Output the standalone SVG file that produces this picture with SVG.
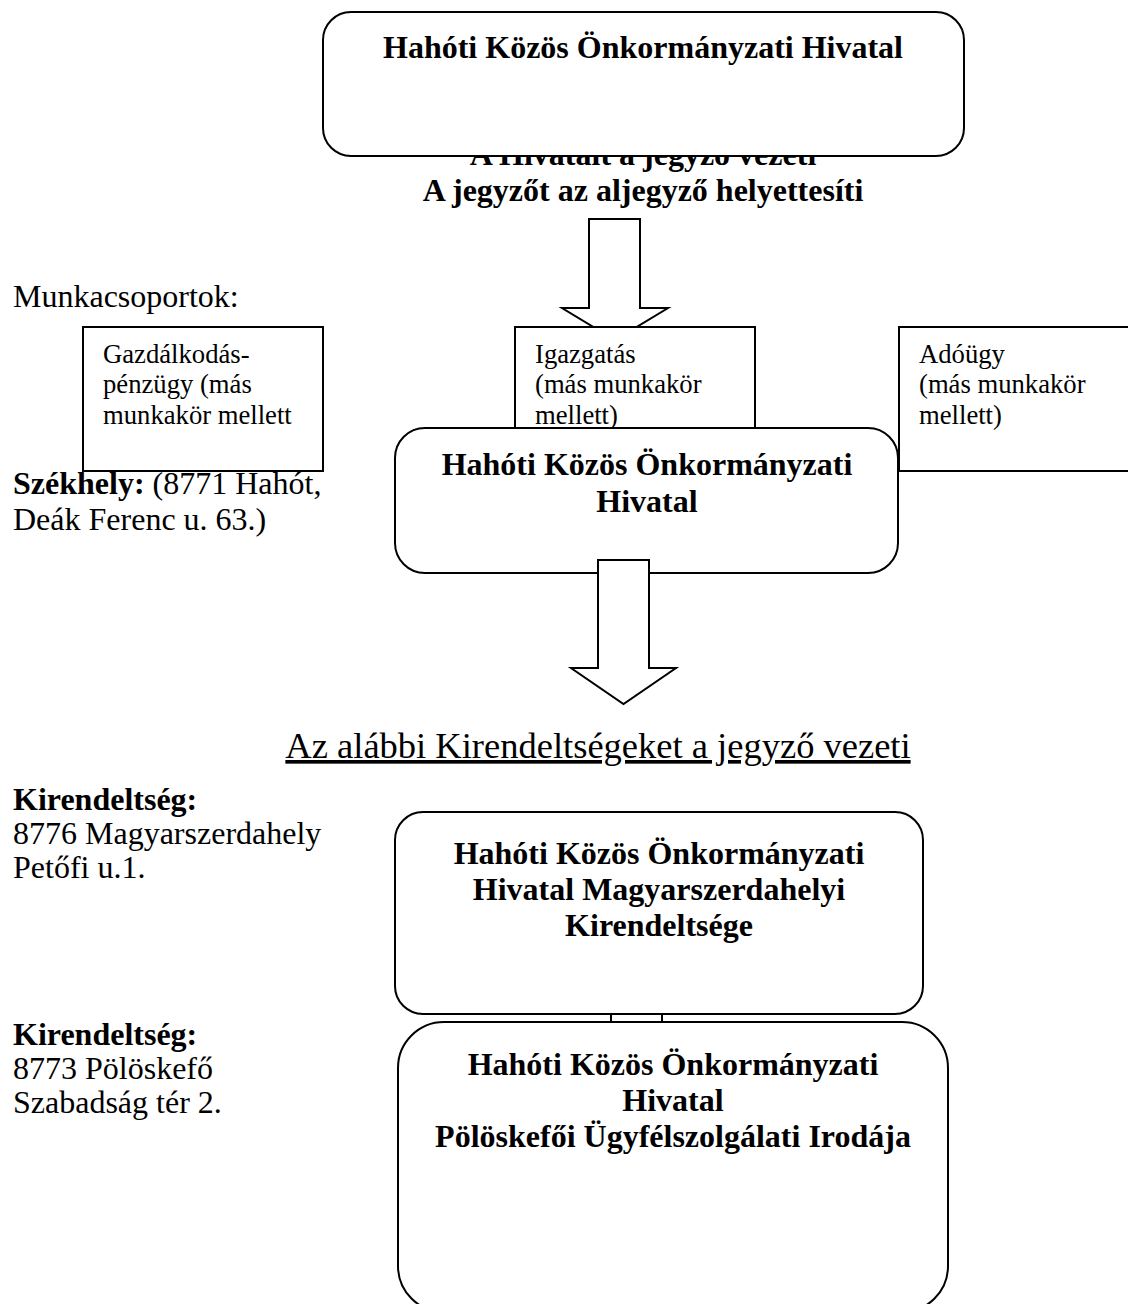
<svg xmlns="http://www.w3.org/2000/svg" width="1128" height="1304" viewBox="0 0 1128 1304">
<style>
text{font-family:"Liberation Serif","Times New Roman",serif;fill:#000}
.b{font-weight:bold;font-size:32px}
.r{font-size:32px}
.s{font-size:26.67px}
.c{text-anchor:middle}
.box{fill:#fff;stroke:#000;stroke-width:2}
.arrow{fill:#fff;stroke:#000;stroke-width:2;stroke-linejoin:miter}
</style>
<rect width="1128" height="1304" fill="#fff"/>

<g id="label-vezetes">
<text class="b c" x="643" y="165">A Hivatalt a jegyző vezeti</text>
<text class="b c" x="643" y="201">A jegyzőt az aljegyző helyettesíti</text>
</g>

<g id="node-hivatal-top">
<rect class="box" x="323" y="12" width="641" height="144" rx="28"/>
<text class="b c" x="643" y="58">Hahóti Közös Önkormányzati Hivatal</text>
</g>

<g id="connectors-1">
<polygon class="arrow" points="589,219 640,219 640,308 668,308 615,340 562,308 589,308"/>
</g>

<g id="label-munkacsoportok">
<text class="r" x="13" y="307">Munkacsoportok:</text>
</g>

<g id="label-szekhely">
<text class="r" x="13" y="494"><tspan font-weight="bold">Székhely:</tspan> (8771 Hahót,</text>
<text class="r" x="13" y="530">Deák Ferenc u. 63.)</text>
</g>

<g id="node-gazdalkodas">
<rect class="box" x="83" y="327" width="240" height="144"/>
<text class="s" x="103" y="363">Gazdálkodás-</text>
<text class="s" x="103" y="393">pénzügy (más</text>
<text class="s" x="103" y="424">munkakör mellett</text>
</g>

<g id="node-igazgatas">
<rect class="box" x="515" y="327" width="240" height="144"/>
<text class="s" x="535" y="363">Igazgatás</text>
<text class="s" x="535" y="393">(más munkakör</text>
<text class="s" x="535" y="424">mellett)</text>
</g>

<g id="node-adougy">
<rect class="box" x="899" y="327" width="260" height="144"/>
<text class="s" x="919" y="363">Adóügy</text>
<text class="s" x="919" y="393">(más munkakör</text>
<text class="s" x="919" y="424">mellett)</text>
</g>

<g id="node-hivatal-mid">
<rect class="box" x="395" y="428" width="503" height="145" rx="30"/>
<text class="b c" x="647" y="475">Hahóti Közös Önkormányzati</text>
<text class="b c" x="647" y="512">Hivatal</text>
</g>

<g id="connectors">
<polygon class="arrow" points="598,560 649,560 649,668 676,668 623.5,704 571,668 598,668"/>
<polygon class="arrow" points="611,990 662,990 662,1050 689,1050 636.5,1086 584,1050 611,1050"/>
</g>

<g id="label-kirendeltsegek">
<text x="598" y="758" font-size="36.5" text-anchor="middle" text-decoration="underline">Az alábbi Kirendeltségeket a jegyző vezeti</text>
</g>

<g id="label-kir1">
<text class="b" x="13" y="810">Kirendeltség:</text>
<text class="r" x="13" y="844">8776 Magyarszerdahely</text>
<text class="r" x="13" y="878">Petőfi u.1.</text>
</g>

<g id="label-kir2">
<text class="b" x="13" y="1045">Kirendeltség:</text>
<text class="r" x="13" y="1079">8773 Pölöskefő</text>
<text class="r" x="13" y="1113">Szabadság tér 2.</text>
</g>

<g id="node-kir-magyarszerdahely">
<rect class="box" x="395" y="812" width="528" height="202" rx="28"/>
<text class="b c" x="659" y="864">Hahóti Közös Önkormányzati</text>
<text class="b c" x="659" y="900">Hivatal Magyarszerdahelyi</text>
<text class="b c" x="659" y="936">Kirendeltsége</text>
</g>

<g id="node-polos">
<rect class="box" x="398" y="1022" width="550" height="290" rx="46"/>
<text class="b c" x="673" y="1075">Hahóti Közös Önkormányzati</text>
<text class="b c" x="673" y="1111">Hivatal</text>
<text class="b c" x="673" y="1147">Pölöskefői Ügyfélszolgálati Irodája</text>
</g>
</svg>
